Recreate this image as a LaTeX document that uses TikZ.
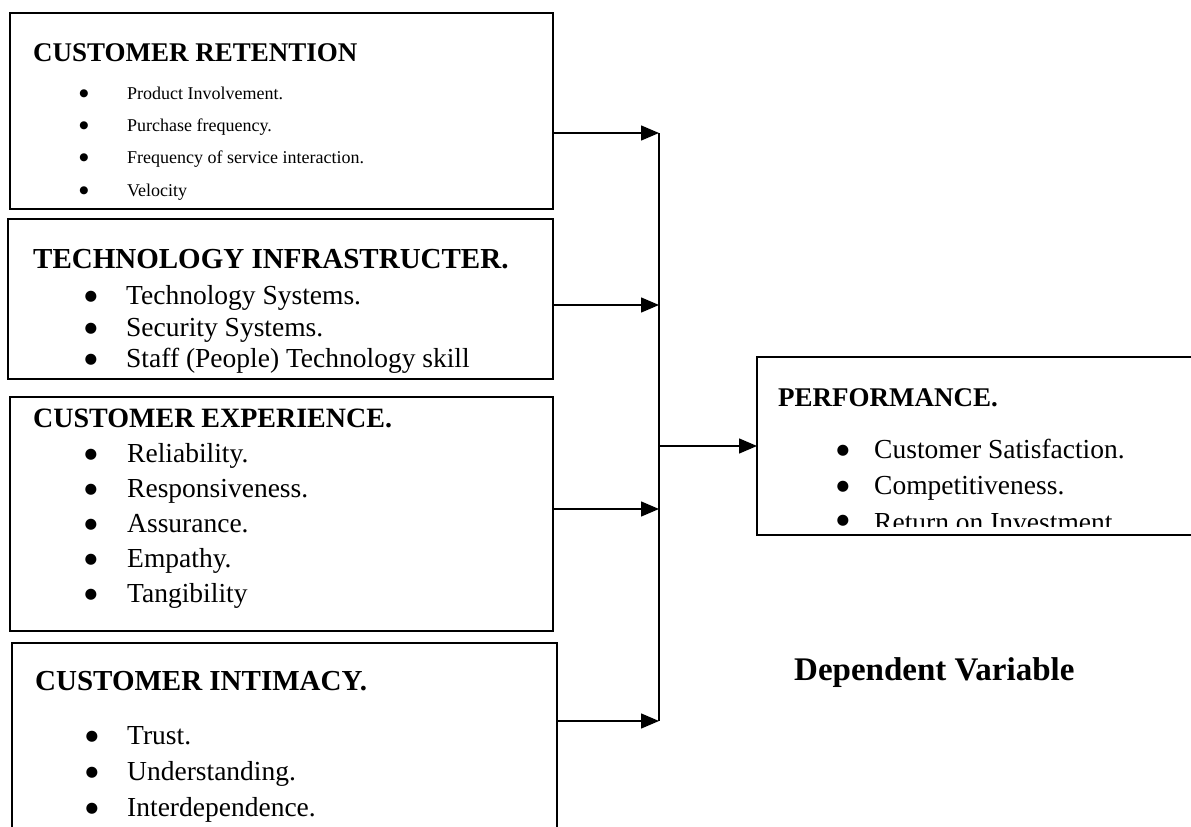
\documentclass[tikz,border=0pt]{standalone}
\usepackage{fontspec}
\setmainfont{Liberation Serif}
\newfontfamily\symfont{DejaVu Sans}
\usetikzlibrary{arrows.meta}
\begin{document}
\begin{tikzpicture}[x=1pt,y=-1pt,
  box/.style={draw, line width=2pt, inner sep=0pt, outer sep=0pt, anchor=north west},
  hd/.style={anchor=base west, inner sep=0pt, font=\fontsize{27}{30}\selectfont\bfseries},
  itm/.style={anchor=base west, inner sep=0pt, font=\fontsize{27.5}{30}\selectfont},
  bul/.style={anchor=center, inner sep=0pt, font=\symfont\fontsize{14.5}{15}\selectfont},
  sbul/.style={anchor=center, inner sep=0pt, font=\symfont\fontsize{10.5}{11}\selectfont},
  sm/.style={anchor=base west, inner sep=0pt, font=\fontsize{18}{20}\selectfont},
  dv/.style={anchor=base west, inner sep=0pt, font=\fontsize{33}{36}\selectfont\bfseries},
  conn/.style={line width=1.4pt, -{Triangle[length=18pt,width=15pt]}},
  ln/.style={line width=1.3pt}]
\useasboundingbox (0,0) rectangle (1191,827);
\clip (0,0) rectangle (1191,827);

% boxes
\node[box, minimum width=543pt, minimum height=196pt] (b1) at (10,13) {};
\node[box, minimum width=545pt, minimum height=160pt] (b2) at (8,219) {};
\node[box, minimum width=543pt, minimum height=234pt] (b3) at (10,397) {};
\node[box, minimum width=545pt, minimum height=250pt] (b4) at (12,643) {};
\node[box, minimum width=500pt, minimum height=178pt] (bp) at (757,357) {};

% box 1
\node[hd] (h1) at (33,61) {CUSTOMER RETENTION};
\node[sbul] (p1b) at (84,94) {●}; \node[sm] (p1) at (127,99) {Product Involvement.};
\node[sbul] (p2b) at (84,126) {●}; \node[sm] (p2) at (127,131) {Purchase frequency.};
\node[sbul] (p3b) at (84,158) {●}; \node[sm] (p3) at (127,163) {Frequency of service interaction.};
\node[sbul] (p4b) at (84,191) {●}; \node[sm] (p4) at (127,196) {Velocity};

% box 2
\node[hd, font=\fontsize{29}{32}\selectfont\bfseries] (h2) at (33,268) {TECHNOLOGY INFRASTRUCTER.};
\node[bul] (q1b) at (91,297) {●}; \node[itm] (q1) at (126,304) {Technology Systems.};
\node[bul] (q2b) at (91,329) {●}; \node[itm] (q2) at (126,336) {Security Systems.};
\node[bul] (q3b) at (91,360) {●}; \node[itm] (q3) at (126,367) {Staff (People) Technology skill};

% box 3
\node[hd, font=\fontsize{28}{31}\selectfont\bfseries] (h3) at (33,427) {CUSTOMER EXPERIENCE.};
\node[bul] (r1b) at (91,455) {●}; \node[itm] (r1) at (127,462) {Reliability.};
\node[bul] (r2b) at (91,490) {●}; \node[itm] (r2) at (127,497) {Responsiveness.};
\node[bul] (r3b) at (91,525) {●}; \node[itm] (r3) at (127,532) {Assurance.};
\node[bul] (r4b) at (91,560) {●}; \node[itm] (r4) at (127,567) {Empathy.};
\node[bul] (r5b) at (91,595) {●}; \node[itm] (r5) at (127,602) {Tangibility};

% box 4
\node[hd, font=\fontsize{29}{32}\selectfont\bfseries] (h4) at (35,690) {CUSTOMER INTIMACY.};
\node[bul] (s1b) at (92,737) {●}; \node[itm] (s1) at (127,744) {Trust.};
\node[bul] (s2b) at (92,773) {●}; \node[itm] (s2) at (127,780) {Understanding.};
\node[bul] (s3b) at (92,809) {●}; \node[itm] (s3) at (127,816) {Interdependence.};

% performance
\node[hd] (hp) at (778,406) {PERFORMANCE.};
\node[bul] (u1b) at (843,451) {●}; \node[itm] (u1) at (874,458) {Customer Satisfaction.};
\node[bul] (u2b) at (843,487) {●}; \node[itm] (u2) at (874,494) {Competitiveness.};
\begin{scope}
\clip (757,357) rectangle (1191,526);
\node[bul] (u3b) at (843,521) {●}; \node[itm] (u3) at (874,531) {Return on Investment};
\end{scope}

\node[dv] (dvar) at (794,680) {Dependent Variable};

% connectors
\coordinate (j1) at (659,133);
\coordinate (j2) at (659,305);
\coordinate (j3) at (659,509);
\coordinate (j4) at (659,721);
\coordinate (jm) at (659,446);
\draw[ln] (j1) -- (j4);
\draw[conn] (b1.east |- j1) -- (j1);
\draw[conn] (b2.east |- j2) -- (j2);
\draw[conn] (b3.east |- j3) -- (j3);
\draw[conn] (b4.east |- j4) -- (j4);
\draw[conn] (jm) -- (bp.west |- jm);
\end{tikzpicture}
\end{document}
